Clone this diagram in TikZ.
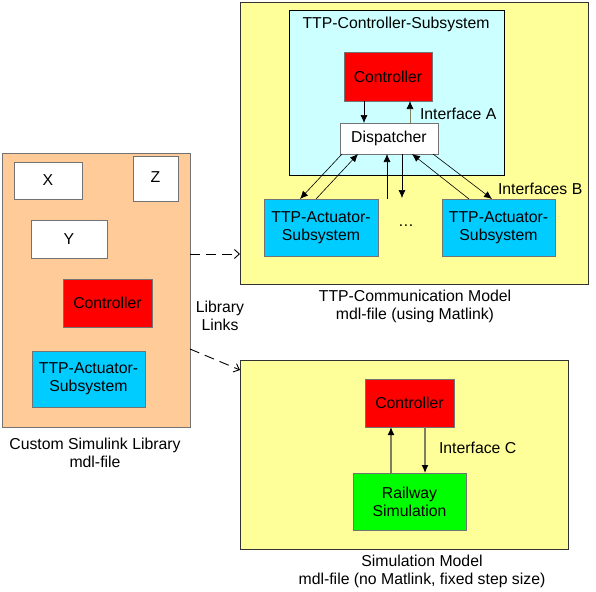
\documentclass[tikz,border=0pt]{standalone}
\usepackage{fontspec}
\setmainfont{Liberation Sans}
\usepackage{tikz}
\usetikzlibrary{positioning,shapes,arrows.meta}

\definecolor{modelyellow}{HTML}{FFFF99}
\definecolor{subcyan}{HTML}{CCFFFF}
\definecolor{actblue}{HTML}{00CCFF}
\definecolor{liborange}{HTML}{FFCC99}
\definecolor{simgreen}{HTML}{00FF00}
\definecolor{olivearrow}{HTML}{7F7F5F}

\begin{document}
\begin{tikzpicture}[
	x=1pt, y=-1pt,
	font=\fontsize{15.8}{18}\selectfont,
	every node/.style={inner sep=0pt, outer sep=0pt},
	model/.style={draw=black!80, fill=modelyellow, line width=0.8pt},
	block/.style={draw=black!55, line width=0.8pt, align=center},
	link/.style={-{Latex[length=8pt,width=7pt,color=black]}, line width=0.6pt},
	libarrow/.style={-{Straight Barb[length=5pt,width=9pt]}, line width=0.9pt, dash pattern=on 10pt off 6pt}
	]
	\useasboundingbox (0,0) rectangle (596,591);
	
	% TTP communication model
	\node[model, minimum width=348pt, minimum height=282pt] (comm) at (414,143) {};
	\node[draw=black, fill=subcyan, line width=0.8pt, minimum width=215pt, minimum height=165pt] (ctrlsub) at (396.5,92.5) {};
	\node (subtitle) at (396,24) {TTP-Controller-Subsystem};
	\node[block, fill=red, minimum width=88pt, minimum height=49pt] (ctrlA) at (388,76.5) {Controller};
	\node[block, fill=white, minimum width=98pt, minimum height=31pt] (disp) at (389,138.5) {Dispatcher};
	\node[block, fill=actblue, minimum width=114pt, minimum height=57pt] (actL) at (321,227.5) {TTP-Actuator-\\Subsystem};
	\node[block, fill=actblue, minimum width=113pt, minimum height=57pt] (actR) at (498.5,227.5) {TTP-Actuator-\\Subsystem};
	\node (dots) at (406,226) {\dots};
	\coordinate (midup) at (387,199);
	\coordinate (middown) at (402,198);
	
	\node[anchor=west] (ifA) at (420,114) {Interface A};
	\node[anchor=west] (ifB) at (498,189) {Interfaces B};
	\node[align=center] (commcap) at (415,306) {TTP-Communication Model\\mdl-file (using Matlink)};
	
	% simulation model
	\node[model, minimum width=328pt, minimum height=189pt] (sim) at (404,454.5) {};
	\node[block, fill=red, minimum width=89pt, minimum height=48pt] (ctrlC) at (409.5,403) {Controller};
	\node[block, fill=simgreen, minimum width=113pt, minimum height=57pt] (rail) at (409.5,501.5) {Railway\\Simulation};
	\node[anchor=west] (ifC) at (439,448) {Interface C};
	\node[align=center] (simcap) at (422,571) {Simulation Model\\mdl-file (no Matlink, fixed step size)};
	
	% custom library
	\node[draw=black!55, fill=liborange, line width=0.8pt, minimum width=188pt, minimum height=274pt] (lib) at (96,290) {};
	\node[block, fill=white, minimum width=68pt, minimum height=37pt] (blkX) at (48,180.5) {X};
	\node[block, fill=white, minimum width=45pt, minimum height=45pt] (blkZ) at (155.5,178.5) {\raisebox{2pt}{Z}};
	\node[block, fill=white, minimum width=76pt, minimum height=38pt] (blkY) at (69,239) {Y};
	\node[block, fill=red, minimum width=89pt, minimum height=48pt] (ctrlL) at (107.5,303) {Controller};
	\node[block, fill=actblue, minimum width=113pt, minimum height=56pt] (actLib) at (88.5,379) {TTP-Actuator-\\Subsystem};
	\node[align=center] (libcap) at (95,453) {Custom Simulink Library\\mdl-file};
	\node[align=center] (links) at (220,316) {Library\\Links};
	
	% connections
	\draw[link] ([xshift=-24pt]ctrlA.south) -- ([xshift=-25pt]disp.north);
	\draw[link, draw=olivearrow] ([xshift=21pt]disp.north) -- ([xshift=22pt]ctrlA.south);
	\draw[link] ([xshift=-47pt]disp.south) -- ([xshift=-21pt]actL.north);
	\draw[link] ([xshift=-5pt]actL.north) -- ([xshift=-31pt]disp.south);
	\draw[link] (midup) -- ([xshift=-2pt]disp.south);
	\draw[link] ([xshift=13pt]disp.south) -- (middown);
	\draw[link] ([xshift=-29.5pt]actR.north) -- ([xshift=23pt]disp.south);
	\draw[link] ([xshift=44pt]disp.south) -- ([xshift=-6.5pt]actR.north);
	
	\draw[link, draw=olivearrow, line width=1.2pt] ([xshift=-18.5pt]rail.north) -- ([xshift=-18.5pt]ctrlC.south);
	\draw[link, draw=olivearrow, line width=1.2pt] ([xshift=15.5pt]ctrlC.south) -- ([xshift=15.5pt]rail.north);
	
	\draw[libarrow] ([yshift=36pt]lib.east) -- ([yshift=-111pt]comm.west);
	\draw[libarrow] ([yshift=-59pt]lib.east) -- ([yshift=84.5pt]sim.west);
	
\end{tikzpicture}
\end{document}
